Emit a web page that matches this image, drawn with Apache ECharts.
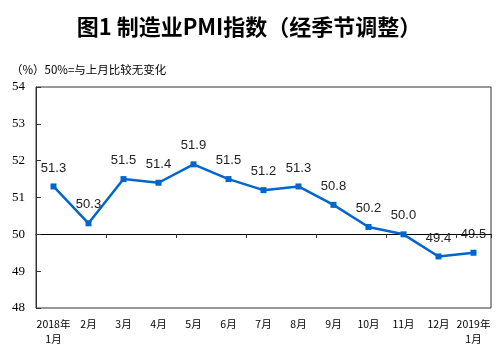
<!DOCTYPE html>
<html><head><meta charset="utf-8">
<script src="https://cdn.jsdelivr.net/npm/echarts@6/dist/echarts.min.js"></script>
<style>html,body{margin:0;padding:0;background:#fff}#c{width:498px;height:355px}</style>
</head><body><div id="c"></div>
<script>
const categories = ['2018年\n1月','2月','3月','4月','5月','6月','7月','8月','9月','10月','11月','12月','2019年\n1月'];
const pmiValues = [51.3, 50.3, 51.5, 51.4, 51.9, 51.5, 51.2, 51.3, 50.8, 50.2, 50.0, 49.4, 49.5];
const yTicks = [48, 49, 50, 51, 52, 53, 54];
const titleText = '图1 制造业PMI指数（经季节调整）';
const noteText = '（%）50%=与上月比较无变化';

const chart = echarts.init(document.getElementById('c'));
chart.setOption({
  animation: false,
  backgroundColor: '#fff',
  title: [{
    text: titleText, left: 'center', top: 11,
    textStyle: {fontFamily: 'Noto Sans CJK SC', fontSize: 22, fontWeight: 'bold', color: '#000'}
  }, {
    text: noteText, left: 6, top: 59,
    textStyle: {fontFamily: 'Noto Sans CJK SC', fontSize: 11.5, fontWeight: 'normal', color: '#000'}
  }],
  grid: {left: 36, right: 7, top: 87, bottom: 47, show: true, borderColor: '#333', borderWidth: 1, backgroundColor: 'transparent'},
  xAxis: [{
    type: 'category', data: categories, boundaryGap: true, position: 'bottom',
    axisLine: {show: false}, axisTick: {show: false},
    axisLabel: {interval: 0, fontSize: 10.5, color: '#000', fontFamily: 'Noto Sans CJK SC', margin: 9, lineHeight: 15}
  }, {
    type: 'category', data: categories, boundaryGap: true, position: 'bottom', offset: -74,
    axisLine: {show: true, onZero: false, lineStyle: {color: '#000', width: 1}},
    axisTick: {show: true, length: 4, lineStyle: {color: '#333'}},
    axisLabel: {show: false}
  }],
  yAxis: {
    type: 'value', min: yTicks[0], max: yTicks[yTicks.length - 1], interval: 1,
    splitLine: {show: false},
    axisLine: {show: true, lineStyle: {color: '#333'}},
    axisTick: {show: true, inside: true, length: 5, lineStyle: {color: '#333'}},
    axisLabel: {fontFamily: 'Liberation Serif', fontSize: 13, color: '#000', margin: 11}
  },
  series: [{
    type: 'line', data: pmiValues, xAxisIndex: 0,
    symbol: 'rect', symbolSize: 6,
    lineStyle: {color: '#0066CC', width: 2.5},
    itemStyle: {color: '#0066CC'},
    label: {show: true, position: 'top', distance: 9, formatter: p => p.value.toFixed(1),
      fontFamily: 'Liberation Sans', fontSize: 13, color: '#222'}
  }]
});
</script></body></html>
